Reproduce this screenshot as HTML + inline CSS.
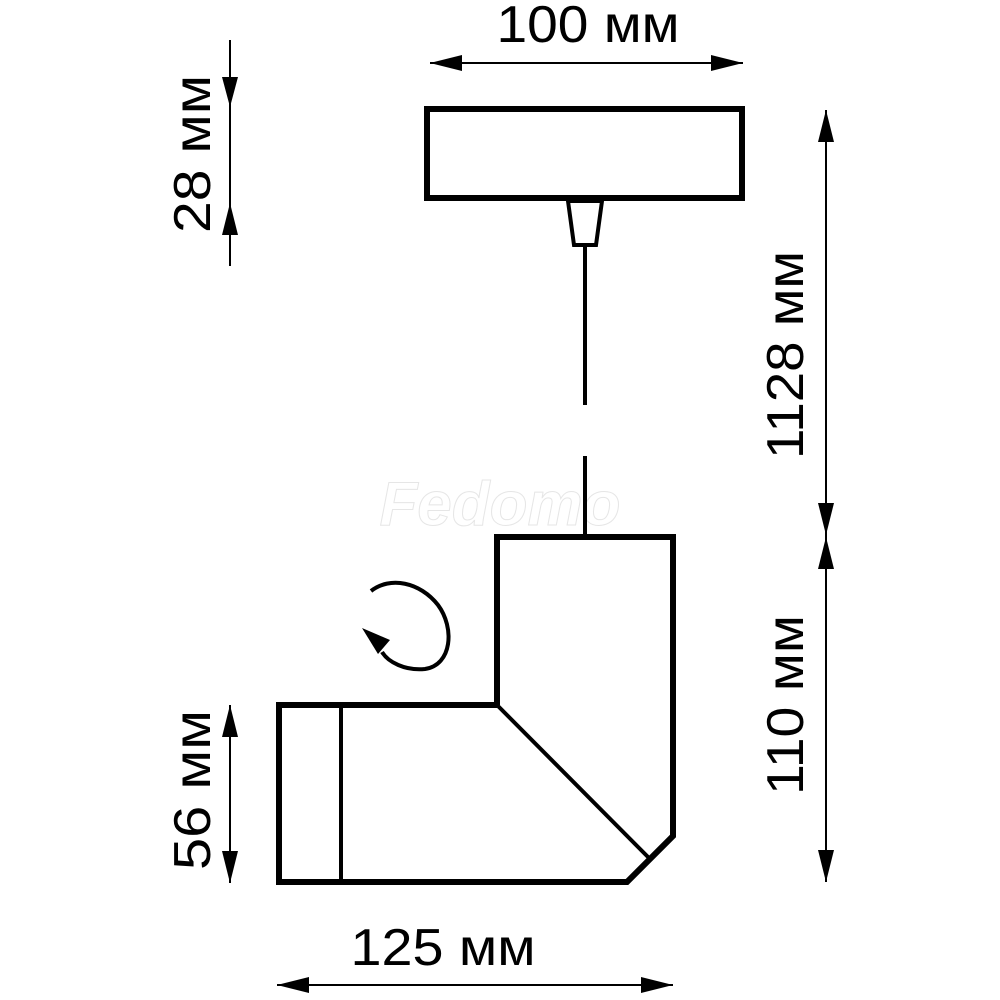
<!DOCTYPE html>
<html><head><meta charset="utf-8"><style>
html,body{margin:0;padding:0;background:#fff}
svg{display:block}
text{font-family:"Liberation Sans",sans-serif;fill:#000}
</style></head><body>
<svg width="1000" height="1000" viewBox="0 0 1000 1000">
<text x="500" y="525" font-size="62" font-style="italic" font-weight="bold" text-anchor="middle" style="fill:#fff;stroke:#e6e6e6;stroke-width:1">Fedomo</text>
<g fill="none" stroke="#000" stroke-linejoin="miter">
<rect x="427" y="109" width="315" height="89" stroke-width="6"/>
<polygon points="568,201 602,201 596,245 574,245" stroke-width="4"/>
<line x1="585" y1="245" x2="585" y2="405" stroke-width="4"/>
<line x1="585" y1="456" x2="585" y2="537" stroke-width="4"/>
<polyline points="497,705 497,537 673,537 673,836 627,882 279,882 279,705 497,705" stroke-width="6"/>
<line x1="341" y1="705" x2="341" y2="882" stroke-width="4"/>
<line x1="497" y1="705" x2="649" y2="858" stroke-width="4"/>
<path d="M371,591 C390,576 420,582 438,605 C455,628 452,665 425,669 C405,671 388,662 382,652" stroke-width="4"/>
<g stroke-width="2">
<line x1="430" y1="63" x2="743" y2="63"/>
<line x1="230" y1="40" x2="230" y2="266"/>
<line x1="826" y1="110" x2="826" y2="882"/>
<line x1="230" y1="705" x2="230" y2="883"/>
<line x1="277" y1="985" x2="673" y2="985"/>
</g>
</g>
<g fill="#000">
<polygon points="362,628 390,640 378,654"/>
<polygon points="430,63 462,55 462,71"/>
<polygon points="743,63 711,55 711,71"/>
<polygon points="230,107 222,77 238,77"/>
<polygon points="230,203 222,235 238,235"/>
<polygon points="826,110 818,142 834,142"/>
<polygon points="826,535 818,503 834,503"/>
<polygon points="826,537 818,569 834,569"/>
<polygon points="826,882 818,850 834,850"/>
<polygon points="230,705 222,737 238,737"/>
<polygon points="230,883 222,851 238,851"/>
<polygon points="277,985 309,977 309,993"/>
<polygon points="673,985 641,977 641,993"/>
</g>
<g font-size="52" text-anchor="middle" textLength="0">
<text x="588" y="42" textLength="183" lengthAdjust="spacingAndGlyphs">100 мм</text>
<text x="443" y="965" textLength="185" lengthAdjust="spacingAndGlyphs">125 мм</text>
<text transform="translate(210,154) rotate(-90)" textLength="158" lengthAdjust="spacingAndGlyphs">28 мм</text>
<text transform="translate(210,790) rotate(-90)" textLength="160" lengthAdjust="spacingAndGlyphs">56 мм</text>
<text transform="translate(803,355) rotate(-90)" textLength="208" lengthAdjust="spacingAndGlyphs">1128 мм</text>
<text transform="translate(803,705) rotate(-90)" textLength="180" lengthAdjust="spacingAndGlyphs">110 мм</text>
</g>
</svg>
</body></html>
